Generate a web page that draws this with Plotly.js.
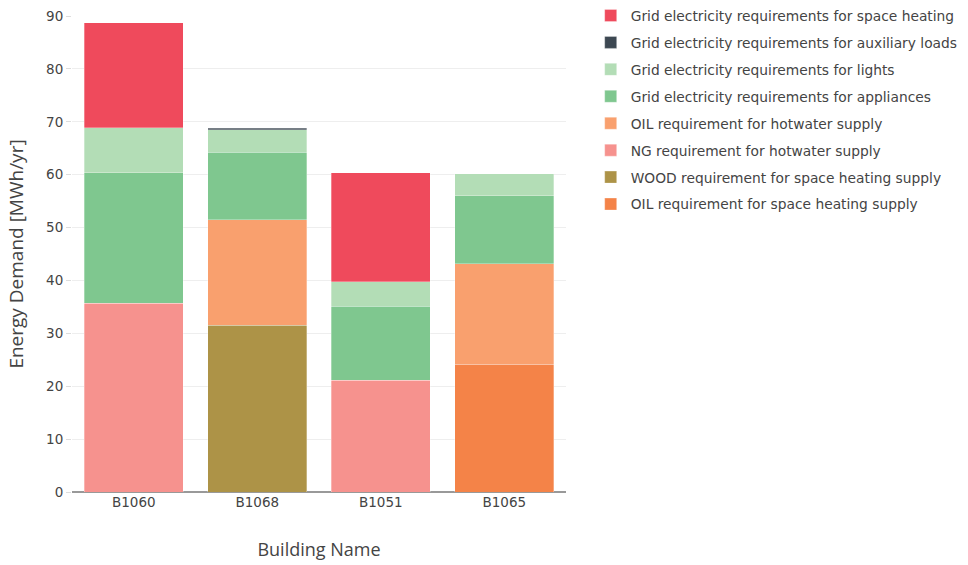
<!DOCTYPE html>
<html>
<head>
<meta charset="utf-8">
<script src="https://cdn.plot.ly/plotly-3.0.1.min.js"></script>
<style>body{margin:0;padding:0;background:#fff;}#chart{width:968px;height:565px;}</style>
</head>
<body>
<div id="chart"></div>
<script>
const buildings = ["B1060", "B1068", "B1051", "B1065"];

const oilSpaceHeating = [null, null, null, 24.2];
const woodSpaceHeating = [null, 31.5, null, null];
const ngHotwater = [35.7, null, 21.1, null];
const oilHotwater = [null, 20.0, null, 19.0];
const gridAppliances = [24.7, 12.7, 14.0, 12.8];
const gridLights = [8.5, 4.3, 4.7, 4.2];
const gridAuxiliary = [null, 0.3, null, null];
const gridSpaceHeating = [19.8, null, 20.6, null];

const seriesNames = [
  "OIL requirement for space heating supply",
  "WOOD requirement for space heating supply",
  "NG requirement for hotwater supply",
  "OIL requirement for hotwater supply",
  "Grid electricity requirements for appliances",
  "Grid electricity requirements for lights",
  "Grid electricity requirements for auxiliary loads",
  "Grid electricity requirements for space heating"
];
const seriesValues = [oilSpaceHeating, woodSpaceHeating, ngHotwater, oilHotwater,
  gridAppliances, gridLights, gridAuxiliary, gridSpaceHeating];
const seriesColors = ["#F48348", "#AD9347", "#F6928E", "#F9A06E",
  "#7FC78F", "#B3DDB6", "#3D4852", "#EF4A5C"];

const traces = seriesNames.map((n, i) => ({
  type: "bar",
  name: n,
  legendgroup: "g" + i,
  legendrank: 1000 - i,
  x: buildings,
  y: seriesValues[i],
  marker: {color: seriesColors[i], line: {color: "rgba(255,255,255,0.6)", width: 0.5}}
}));

const FONT = "DejaVu Sans, Verdana, sans-serif";
const TFONT = "Open Sans, Noto Sans, sans-serif";

const layout = {
  width: 968, height: 565,
  barmode: "stack",
  bargap: 0.2,
  margin: {l: 72, r: 402, t: 0, b: 73},
  paper_bgcolor: "#fff", plot_bgcolor: "#fff",
  font: {family: FONT, size: 13, color: "#444"},
  xaxis: {
    title: {text: "Building Name", font: {family: TFONT, size: 18, color: "#444"}, standoff: 34},
    showline: false, zeroline: false, showgrid: false,
    tickfont: {family: FONT, size: 13.5, color: "#444"}
  },
  yaxis: {
    domain: [0, 476 / 492],
    title: {text: "Energy Demand [MWh/yr]", font: {family: TFONT, size: 19, color: "#444"}, standoff: 17},
    range: [0, 90], dtick: 10,
    gridcolor: "#eee", zeroline: true, zerolinecolor: "#999", zerolinewidth: 2,
    ticks: "outside", ticklen: 5, tickcolor: "#ddd",
    tickfont: {family: FONT, size: 13.5, color: "#444"}
  },
  legend: {x: 1.05, xanchor: "left", y: 1.0, yanchor: "top",
    traceorder: "grouped",
    font: {family: FONT, size: 13.8, color: "#444"}, tracegroupgap: 6},
  showlegend: true
};

Plotly.newPlot("chart", traces, layout, {displayModeBar: false, responsive: false});
</script>
</body>
</html>
